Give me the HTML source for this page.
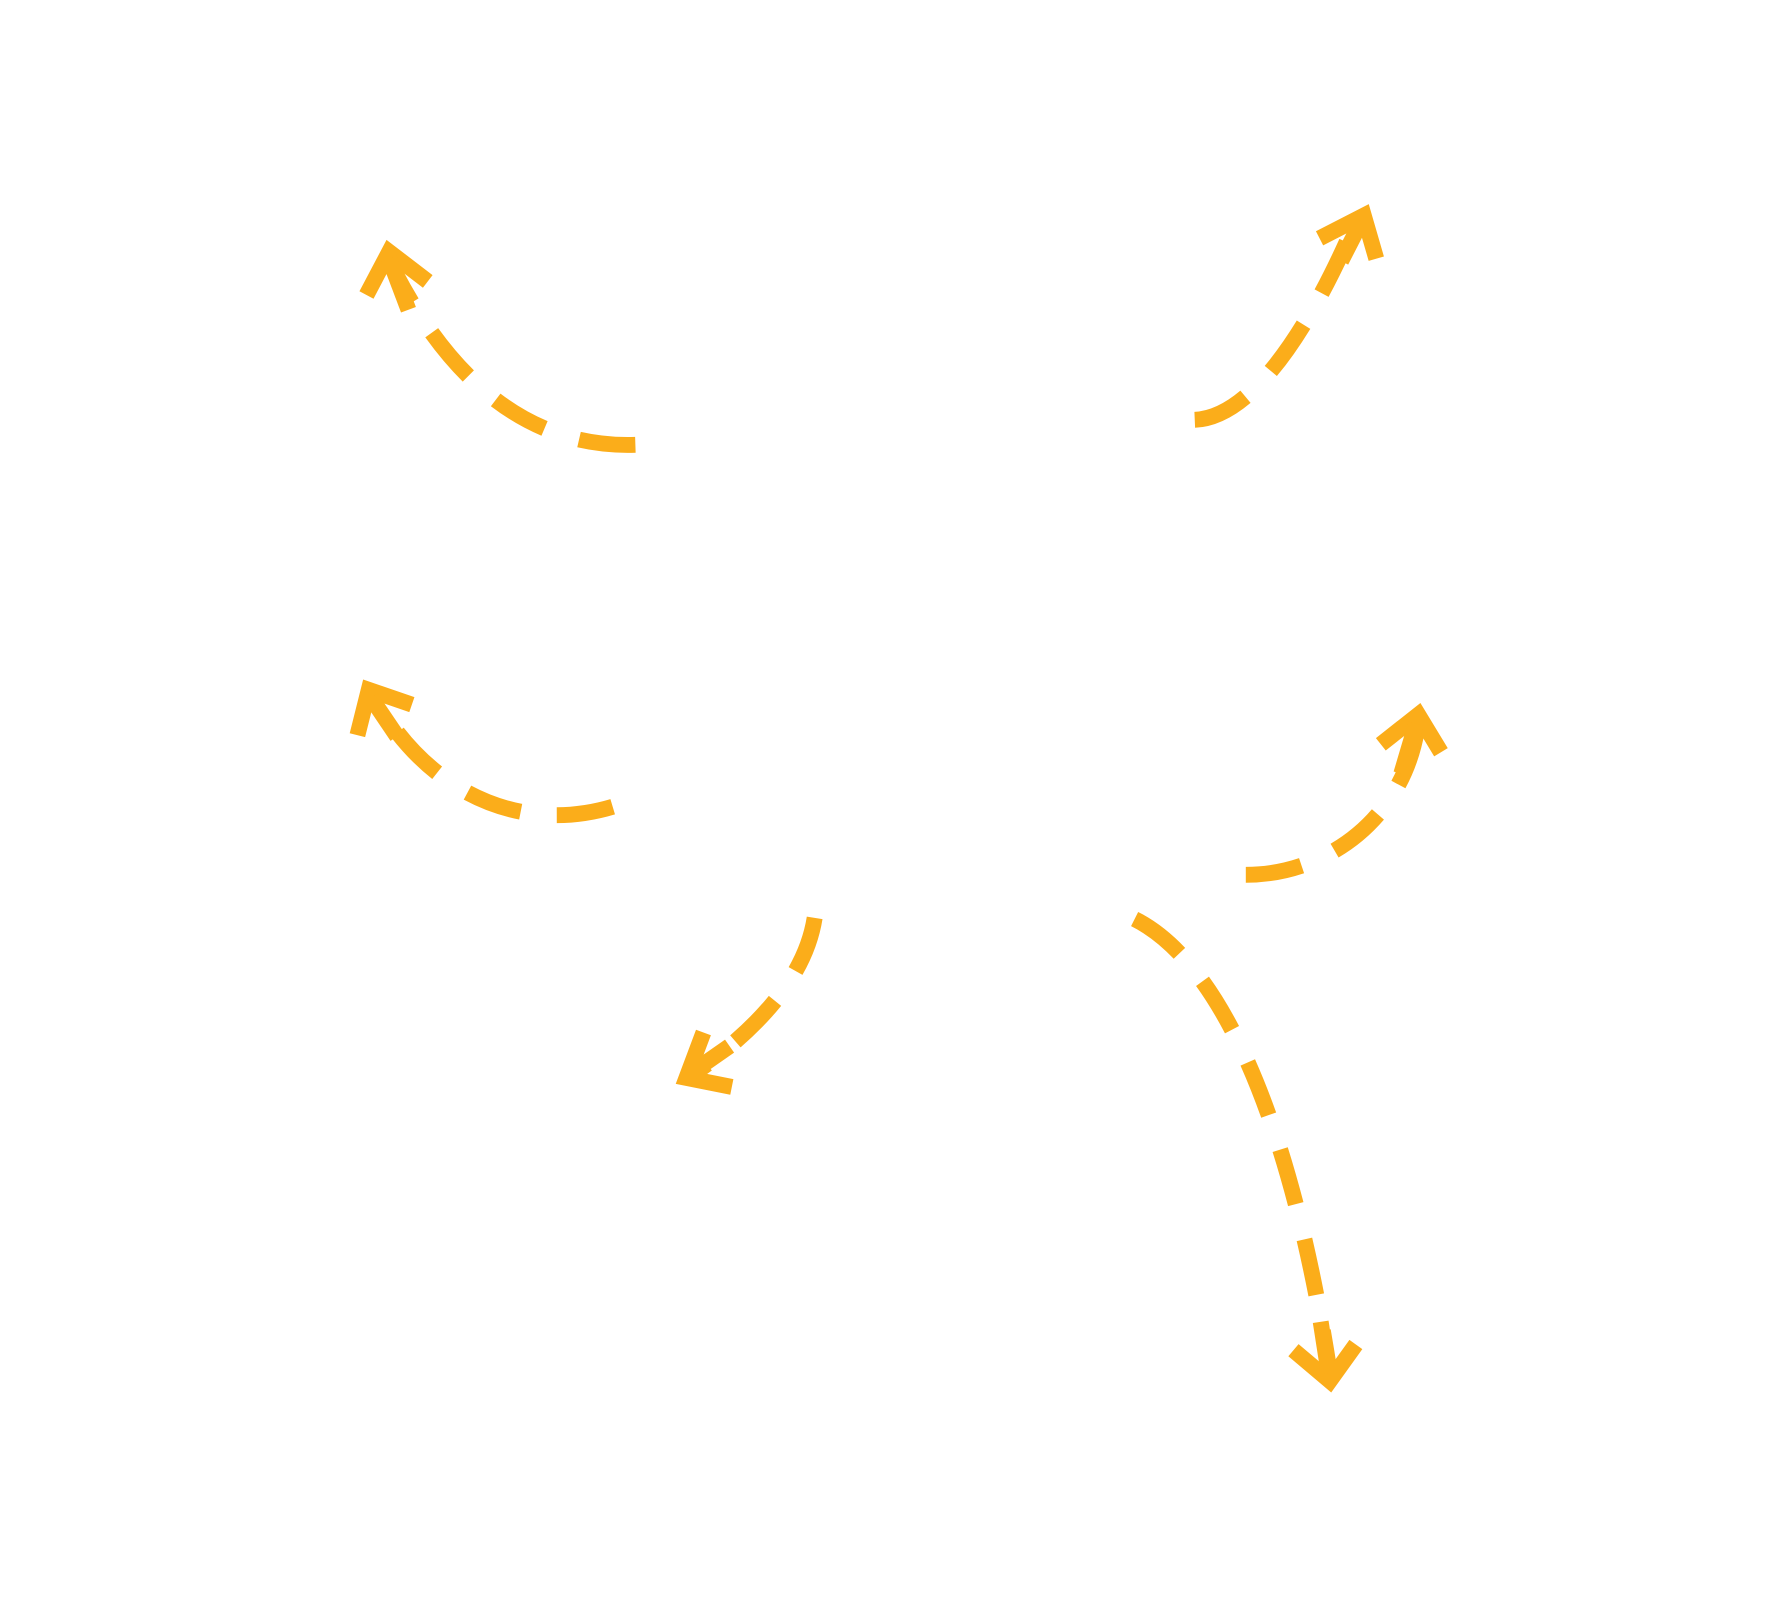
<!DOCTYPE html>
<html><head><meta charset="utf-8"><style>html,body{margin:0;padding:0;background:#fff}svg{display:block}</style></head>
<body>
<svg width="1770" height="1614" viewBox="0 0 1560 1422.5" xmlns="http://www.w3.org/2000/svg">
<g fill="none" stroke="#FBAD1A" stroke-width="14">
<g stroke-dasharray="50 32">
<path d="M560,392 C470,395 400,340 348,240"/>
<path d="M1053,370 C1100,368 1150,300 1195,195"/>
<path d="M540,711 C460,735 380,700 333,620"/>
<path d="M1098,771 C1170,771 1240,720 1250,635"/>
<path d="M718,809 C710,860 670,905 612,946"/>
<path d="M1000,810 C1080,850 1140,1000 1172,1210"/>
</g>
<polyline points="323,260 343,222 377,248"/>
<line x1="360" y1="273" x2="343" y2="228"/>
<polyline points="1163,210 1202,190 1213,228"/>
<line x1="1182" y1="230" x2="1200" y2="195"/>
<polyline points="315,648 325,608 363,621"/>
<line x1="350" y1="649" x2="327" y2="615"/>
<polyline points="1217,656 1250,630 1270,663"/>
<line x1="1235" y1="682" x2="1248" y2="638"/>
<polyline points="620,910 605,950 645,958"/>
<line x1="643" y1="922" x2="610" y2="945"/>
<polyline points="1140,1190 1172,1217 1195,1185"/>
<line x1="1164" y1="1165" x2="1171" y2="1210"/>
</g>
</svg>
</body></html>
